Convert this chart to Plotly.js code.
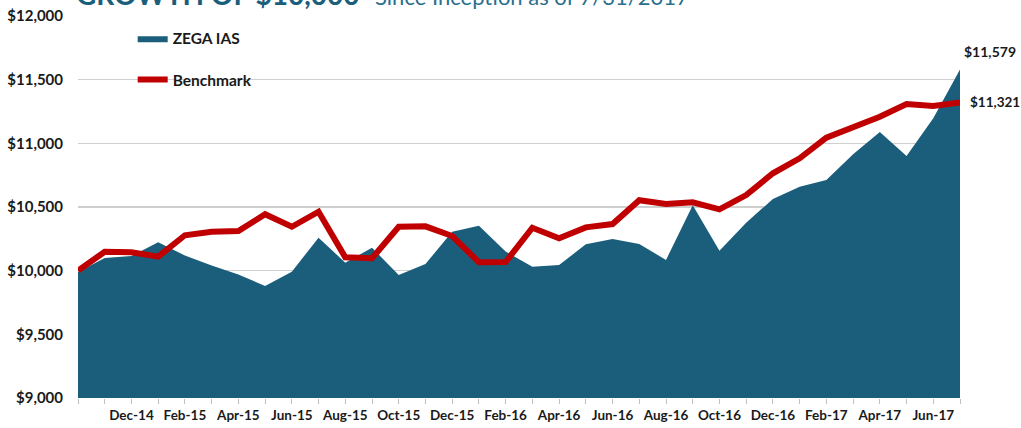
<!DOCTYPE html>
<html>
<head>
<meta charset="utf-8">
<script src="https://cdn.plot.ly/plotly-3.0.1.min.js"></script>
<style>html,body{margin:0;padding:0;background:#fff;}#chart{width:1021px;height:428px;}</style>
</head>
<body>
<div id="chart"></div>
<script>
const months = ['Oct-14','Nov-14','Dec-14','Jan-15','Feb-15','Mar-15','Apr-15','May-15','Jun-15','Jul-15','Aug-15','Sep-15',
  'Oct-15','Nov-15','Dec-15','Jan-16','Feb-16','Mar-16','Apr-16','May-16','Jun-16','Jul-16','Aug-16','Sep-16',
  'Oct-16','Nov-16','Dec-16','Jan-17','Feb-17','Mar-17','Apr-17','May-17','Jun-17','Jul-17'];
const tickLabels = ['','','Dec-14','','Feb-15','','Apr-15','','Jun-15','','Aug-15','',
  'Oct-15','','Dec-15','','Feb-16','','Apr-16','','Jun-16','','Aug-16','',
  'Oct-16','','Dec-16','','Feb-17','','Apr-17','','Jun-17',''];
const zega = [9990,10100,10115,10223,10120,10040,9970,9880,9992,10259,10063,10180,
  9966,10052,10306,10353,10150,10031,10044,10207,10249,10210,10084,10513,
  10157,10377,10563,10660,10712,10914,11089,10900,11197,11579];
const benchmark = [10000,10149,10144,10110,10278,10306,10312,10443,10345,10463,10105,10097,
  10345,10348,10272,10066,10068,10337,10254,10340,10366,10553,10524,10537,
  10482,10594,10765,10882,11044,11125,11209,11309,11293,11321];
const yTicks = [9000,9500,10000,10500,11000,11500,12000];

const teal = '#1b5e7b';
const red = '#c00000';
const fmt = v => '$' + v.toLocaleString('en-US');

const traces = [
  {x: months, y: zega, type: 'scatter', mode: 'lines', name: 'ZEGA IAS',
   fill: 'tozeroy', fillcolor: teal, line: {color: teal, width: 0}, legendgroup: 'a', hoverinfo: 'skip'},
  {x: months, y: benchmark, type: 'scatter', mode: 'lines', name: 'Benchmark',
   line: {color: red, width: 6}, legendgroup: 'b', hoverinfo: 'skip'}
];

const n = months.length;
const layout = {
  width: 1021, height: 428,
  margin: {l: 78, r: 61, t: 16, b: 30},
  paper_bgcolor: '#fff', plot_bgcolor: '#fff',
  font: {family: 'Lato, "Open Sans", sans-serif', color: '#1a1a1a'},
  showlegend: true,
  legend: {x: 0.062, y: 0.985, xanchor: 'left', yanchor: 'top', traceorder: 'grouped', tracegroupgap: 18,
           font: {size: 15.5, family: 'Lato, sans-serif', color: '#1a1a1a', weight: 'bold'}, bgcolor: 'rgba(0,0,0,0)'},
  xaxis: {type: 'category', range: [0, n - 1], tickmode: 'array', tickvals: months, ticktext: tickLabels,
          ticks: 'outside', ticklen: 5, tickcolor: '#bfbfbf', tickwidth: 1, showgrid: false, zeroline: false,
          showline: false, tickangle: 0,
          tickfont: {size: 13.5, family: 'Lato, sans-serif', color: '#1a1a1a', weight: 'bold'}},
  yaxis: {range: [9000, 12000], tickmode: 'array', tickvals: yTicks, ticktext: yTicks.map(fmt),
          showgrid: true, gridcolor: '#cfcfcf', gridwidth: 1.5, zeroline: false, showline: false, ticks: '',
          ticklabelstandoff: 14,
          tickfont: {size: 15, family: 'Lato, sans-serif', color: '#1a1a1a', weight: 'bold'}},
  annotations: [
    {xref: 'paper', yref: 'paper', x: -0.004, y: 1, xanchor: 'left', yanchor: 'bottom', yshift: 3, showarrow: false,
     text: '<b>GROWTH OF $10,000</b>', font: {size: 28, color: teal, family: 'Lato, sans-serif'}},
    {xref: 'paper', yref: 'paper', x: 0.3345, y: 1, xanchor: 'left', yanchor: 'bottom', yshift: 4, showarrow: false,
     text: 'Since Inception as of 7/31/2017', font: {size: 22, color: '#2a6f8e', family: 'Lato, sans-serif'}},
    {x: months[n - 1], y: zega[n - 1], xref: 'x', yref: 'y', text: fmt(zega[n - 1]), showarrow: false,
     xanchor: 'center', yanchor: 'bottom', xshift: 30, yshift: 8,
     font: {size: 14, family: 'Lato, sans-serif', color: '#1a1a1a', weight: 'bold'}},
    {x: months[n - 1], y: benchmark[n - 1], xref: 'x', yref: 'y', text: fmt(benchmark[n - 1]), showarrow: false,
     xanchor: 'left', yanchor: 'middle', xshift: 8, yshift: 0,
     font: {size: 13.5, family: 'Lato, sans-serif', color: '#1a1a1a', weight: 'bold'}}
  ]
};

Plotly.newPlot('chart', traces, layout, {displayModeBar: false, staticPlot: true});
</script>
</body>
</html>
